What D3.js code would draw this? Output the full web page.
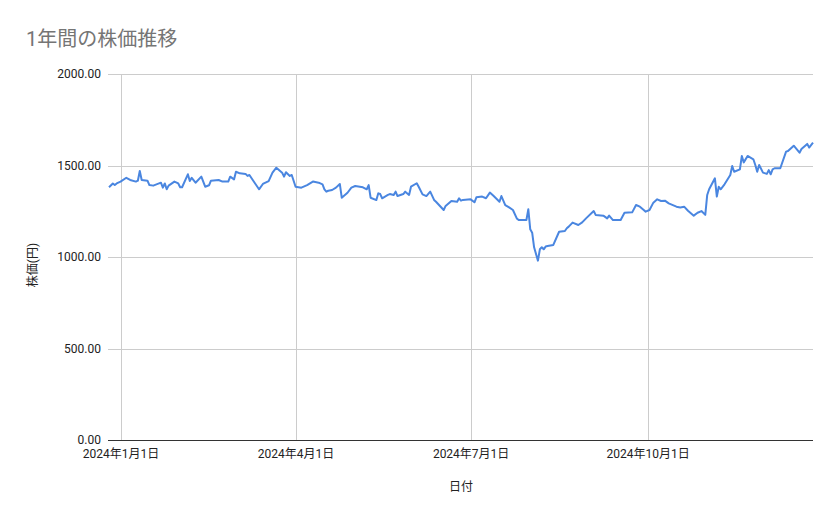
<!DOCTYPE html>
<html>
<head>
<meta charset="utf-8">
<script src="https://cdn.jsdelivr.net/npm/d3@7"></script>
<style>
    body { margin: 0; background: #fff; }
    text { font-family: Roboto, "Noto Sans CJK JP", sans-serif; }
</style>
</head>
<body>
<div id="chart"></div>
<script>
// 1年間の株価推移

const dates = [
    "2023-12-26", "2023-12-28", "2023-12-29", "2023-12-30", "2024-01-01", "2024-01-04", "2024-01-06", "2024-01-09",
    "2024-01-10", "2024-01-11", "2024-01-12", "2024-01-15", "2024-01-16", "2024-01-18", "2024-01-21", "2024-01-22",
    "2024-01-23", "2024-01-24", "2024-01-25", "2024-01-26", "2024-01-29", "2024-01-31", "2024-02-01", "2024-02-02",
    "2024-02-05", "2024-02-06", "2024-02-07", "2024-02-09", "2024-02-12", "2024-02-14", "2024-02-16", "2024-02-17",
    "2024-02-21", "2024-02-23", "2024-02-26", "2024-02-27", "2024-02-29", "2024-03-01", "2024-03-03", "2024-03-06",
    "2024-03-07", "2024-03-08", "2024-03-10", "2024-03-13", "2024-03-15", "2024-03-18", "2024-03-20", "2024-03-22",
    "2024-03-25", "2024-03-26", "2024-03-27", "2024-03-29", "2024-03-30", "2024-04-01", "2024-04-04", "2024-04-07",
    "2024-04-10", "2024-04-13", "2024-04-15", "2024-04-16", "2024-04-17", "2024-04-18", "2024-04-20", "2024-04-22",
    "2024-04-24", "2024-04-25", "2024-04-28", "2024-04-30", "2024-05-02", "2024-05-06", "2024-05-08", "2024-05-09",
    "2024-05-10", "2024-05-13", "2024-05-14", "2024-05-15", "2024-05-16", "2024-05-19", "2024-05-20", "2024-05-22",
    "2024-05-23", "2024-05-24", "2024-05-27", "2024-05-28", "2024-05-30", "2024-05-31", "2024-06-03", "2024-06-04",
    "2024-06-06", "2024-06-08", "2024-06-10", "2024-06-12", "2024-06-13", "2024-06-17", "2024-06-18", "2024-06-21",
    "2024-06-24", "2024-06-25", "2024-06-26", "2024-06-27", "2024-07-01", "2024-07-03", "2024-07-04", "2024-07-07",
    "2024-07-09", "2024-07-11", "2024-07-13", "2024-07-16", "2024-07-17", "2024-07-19", "2024-07-21", "2024-07-23",
    "2024-07-25", "2024-07-26", "2024-07-30", "2024-07-31", "2024-08-01", "2024-08-02", "2024-08-03", "2024-08-05",
    "2024-08-06", "2024-08-07", "2024-08-08", "2024-08-09", "2024-08-10", "2024-08-13", "2024-08-16", "2024-08-19",
    "2024-08-20", "2024-08-21", "2024-08-23", "2024-08-26", "2024-08-28", "2024-08-30", "2024-09-03", "2024-09-04",
    "2024-09-08", "2024-09-10", "2024-09-11", "2024-09-13", "2024-09-17", "2024-09-19", "2024-09-23", "2024-09-25",
    "2024-09-27", "2024-09-29", "2024-09-30", "2024-10-02", "2024-10-04", "2024-10-06", "2024-10-08", "2024-10-10",
    "2024-10-12", "2024-10-16", "2024-10-18", "2024-10-20", "2024-10-22", "2024-10-25", "2024-10-27", "2024-10-29",
    "2024-10-31", "2024-11-01", "2024-11-02", "2024-11-05", "2024-11-06", "2024-11-07", "2024-11-08", "2024-11-10",
    "2024-11-13", "2024-11-14", "2024-11-15", "2024-11-18", "2024-11-19", "2024-11-20", "2024-11-22", "2024-11-25",
    "2024-11-26", "2024-11-27", "2024-11-28", "2024-11-30", "2024-12-02", "2024-12-03", "2024-12-04", "2024-12-05",
    "2024-12-06", "2024-12-09", "2024-12-12", "2024-12-13", "2024-12-16", "2024-12-19", "2024-12-20", "2024-12-23",
    "2024-12-24", "2024-12-26"
];

const prices = [
    1381, 1402, 1393, 1402, 1412, 1433, 1421, 1412,
    1417, 1470, 1421, 1417, 1393, 1390, 1402, 1406,
    1379, 1402, 1370, 1390, 1412, 1402, 1381, 1381,
    1452, 1415, 1433, 1406, 1439, 1384, 1392, 1417,
    1421, 1412, 1412, 1439, 1424, 1466, 1457, 1454,
    1443, 1448, 1417, 1370, 1399, 1415, 1461, 1488,
    1461, 1439, 1463, 1443, 1448, 1384, 1379, 1393,
    1412, 1406, 1397, 1370, 1357, 1362, 1366, 1379,
    1399, 1324, 1351, 1379, 1388, 1381, 1370, 1393,
    1324, 1311, 1348, 1344, 1321, 1339, 1344, 1339,
    1357, 1333, 1344, 1357, 1339, 1384, 1403, 1384,
    1342, 1333, 1357, 1312, 1302, 1257, 1279, 1306,
    1302, 1321, 1308, 1312, 1315, 1299, 1326, 1330,
    1321, 1352, 1333, 1302, 1333, 1284, 1271, 1257,
    1211, 1202, 1202, 1261, 1151, 1133, 1053, 980,
    1042, 1053, 1042, 1057, 1060, 1066, 1138, 1142,
    1157, 1166, 1188, 1175, 1189, 1211, 1251, 1230,
    1226, 1211, 1226, 1202, 1202, 1242, 1244, 1284,
    1275, 1257, 1248, 1257, 1297, 1315, 1306, 1308,
    1293, 1275, 1271, 1275, 1253, 1226, 1242, 1251,
    1230, 1339, 1370, 1430, 1330, 1384, 1370, 1397,
    1448, 1497, 1466, 1479, 1552, 1517, 1552, 1534,
    1503, 1466, 1503, 1461, 1454, 1475, 1452, 1479,
    1485, 1485, 1576, 1579, 1608, 1570, 1590, 1618,
    1598, 1625
];

const yTicks = [0, 500, 1000, 1500, 2000];
const xTicks = ["2024-01-01", "2024-04-01", "2024-07-01", "2024-10-01"];
const xDomain = ["2023-12-26", "2024-12-26"];

const parse = d3.timeParse("%Y-%m-%d");
const fmtDate = d3.timeFormat("%Y年%-m月%-d日");

const width = 839, height = 519;
const plotLeft = 109, plotRight = 813, plotTop = 74, plotBottom = 440;

const svg = d3.select("#chart").append("svg")
    .attr("width", width)
    .attr("height", height);

const x = d3.scaleTime().domain(xDomain.map(parse)).range([plotLeft, plotRight]);
const y = d3.scaleLinear().domain([0, 2000]).range([plotBottom, plotTop]);

const data = dates.map((d, i) => ({ date: parse(d), value: prices[i] }));

// title
svg.append("text")
    .attr("x", 26)
    .attr("y", 46)
    .attr("fill", "#757575")
    .style("font-size", "20px")
    .text("1年間の株価推移");

// horizontal grid
svg.append("g")
    .selectAll("line")
    .data(yTicks.filter(d => d > 0))
    .join("line")
    .attr("x1", plotLeft - 1).attr("x2", plotRight)
    .attr("y1", d => Math.round(y(d)) + 0.5).attr("y2", d => Math.round(y(d)) + 0.5)
    .attr("stroke", "#cccccc");

// vertical grid
svg.append("g")
    .selectAll("line")
    .data(xTicks.map(parse))
    .join("line")
    .attr("x1", d => Math.round(x(d)) + 0.5).attr("x2", d => Math.round(x(d)) + 0.5)
    .attr("y1", plotTop).attr("y2", plotBottom)
    .attr("stroke", "#cccccc");

// y axis labels
const yAxis = svg.append("g")
    .attr("transform", `translate(${plotLeft - 1},0)`)
    .call(d3.axisLeft(y).tickValues(yTicks).tickSize(0).tickPadding(7).tickFormat(d3.format(".2f")));
yAxis.select(".domain").remove();
yAxis.selectAll("text").attr("fill", "#222").style("font-size", "12px");

// x axis labels
const xAxis = svg.append("g")
    .attr("transform", `translate(0,${plotBottom})`)
    .call(d3.axisBottom(x).tickValues(xTicks.map(parse)).tickSize(0).tickPadding(9).tickFormat(fmtDate));
xAxis.select(".domain").remove();
xAxis.selectAll("text").attr("fill", "#222").style("font-size", "12px");

// baseline
svg.append("line")
    .attr("x1", plotLeft - 1).attr("x2", plotRight)
    .attr("y1", plotBottom + 0.5).attr("y2", plotBottom + 0.5)
    .attr("stroke", "#333333");

// price line
svg.append("path")
    .datum(data)
    .attr("fill", "none")
    .attr("stroke", "#4a86e0")
    .attr("stroke-width", 2)
    .attr("stroke-linejoin", "round")
    .attr("d", d3.line().x(d => x(d.date)).y(d => y(d.value)));

// axis titles
svg.append("text")
    .attr("x", 461)
    .attr("y", 491)
    .attr("text-anchor", "middle")
    .attr("fill", "#222")
    .style("font-size", "12px")
    .text("日付");

svg.append("text")
    .attr("transform", "translate(37,265) rotate(-90)")
    .attr("text-anchor", "middle")
    .attr("fill", "#222")
    .style("font-size", "12px")
    .text("株価(円)");
</script>
</body>
</html>
